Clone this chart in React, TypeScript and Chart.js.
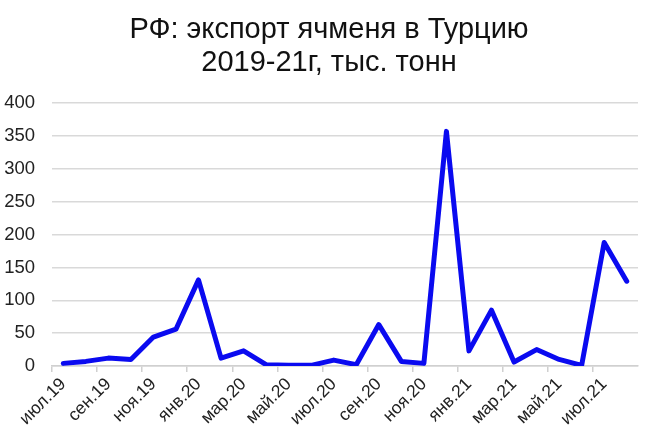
import React, { useEffect, useRef } from "react";
import { Chart, registerables } from "chart.js";

Chart.register(...registerables);

const months = [
  "июл.19", "авг.19", "сен.19", "окт.19", "ноя.19", "дек.19",
  "янв.20", "фев.20", "мар.20", "апр.20", "май.20", "июн.20",
  "июл.20", "авг.20", "сен.20", "окт.20", "ноя.20", "дек.20",
  "янв.21", "фев.21", "мар.21", "апр.21", "май.21", "июн.21",
  "июл.21", "авг.21",
];

const exportVolume = [
  4, 7, 12, 10, 44, 56,
  131, 12, 23, 2, 1, 1,
  9, 2, 63, 7, 4, 357,
  23, 85, 6, 25, 10, 1,
  188, 129,
];

const titleLines = ["РФ: экспорт ячменя в Турцию", "2019-21г, тыс. тонн"];

const yMin = 0;
const yMax = 400;
const yStep = 50;

const FONT = "'Liberation Sans', Arial, sans-serif";

export default function App() {
  const ref = useRef<HTMLCanvasElement | null>(null);

  useEffect(() => {
    if (!ref.current) return;
    const chart = new Chart(ref.current, {
      type: "line",
      data: {
        labels: months,
        datasets: [
          {
            data: exportVolume,
            borderColor: "#0a0af0",
            borderWidth: 5,
            pointRadius: 0,
            tension: 0,
            fill: false,
            borderJoinStyle: "round",
            borderCapStyle: "round",
          },
        ],
      },
      options: {
        animation: false,
        responsive: false,
        maintainAspectRatio: false,
        layout: { padding: { left: 0, right: 0, top: 9, bottom: 0 } },
        plugins: {
          legend: { display: false },
          tooltip: { enabled: false },
          title: {
            display: true,
            text: titleLines,
            color: "#111",
            font: { family: FONT, size: 29, weight: "normal", lineHeight: 1.14 },
            padding: { top: 4, bottom: 24 },
          },
        },
        scales: {
          x: {
            offset: true,
            afterFit: (scale: any) => {
              scale.paddingLeft = 0;
              scale.paddingRight = 20;
              scale.height = 77;
            },
            grid: {
              offset: true,
              drawOnChartArea: false,
              drawTicks: true,
              tickLength: 6,
              lineWidth: 1.5,
              color: (ctx: any) => (ctx.index % 2 === 0 ? "#d0d0d0" : "rgba(0,0,0,0)"),
            },
            border: { display: true, color: "#d0d0d0", width: 1.5 },
            ticks: {
              autoSkip: false,
              minRotation: 45,
              maxRotation: 45,
              padding: 2,
              color: "#222",
              font: { family: FONT, size: 17.5 },
              callback: (_v: any, i: number) => (i % 2 === 0 ? months[i] : ""),
            },
          },
          y: {
            min: yMin,
            max: yMax,
            afterFit: (scale: any) => {
              scale.width = 52;
            },
            grid: {
              color: "#d9d9d9",
              lineWidth: 1.5,
              drawTicks: false,
            },
            border: { display: false },
            ticks: {
              stepSize: yStep,
              padding: 17,
              color: "#222",
              font: { family: FONT, size: 18.5 },
            },
          },
        },
      },
    });
    return () => chart.destroy();
  }, []);

  return (
    <div style={{ position: "fixed", left: 0, top: 0, width: 658, height: 443, background: "#fff" }}>
      <canvas ref={ref} width={658} height={443} style={{ display: "block" }} />
    </div>
  );
}
